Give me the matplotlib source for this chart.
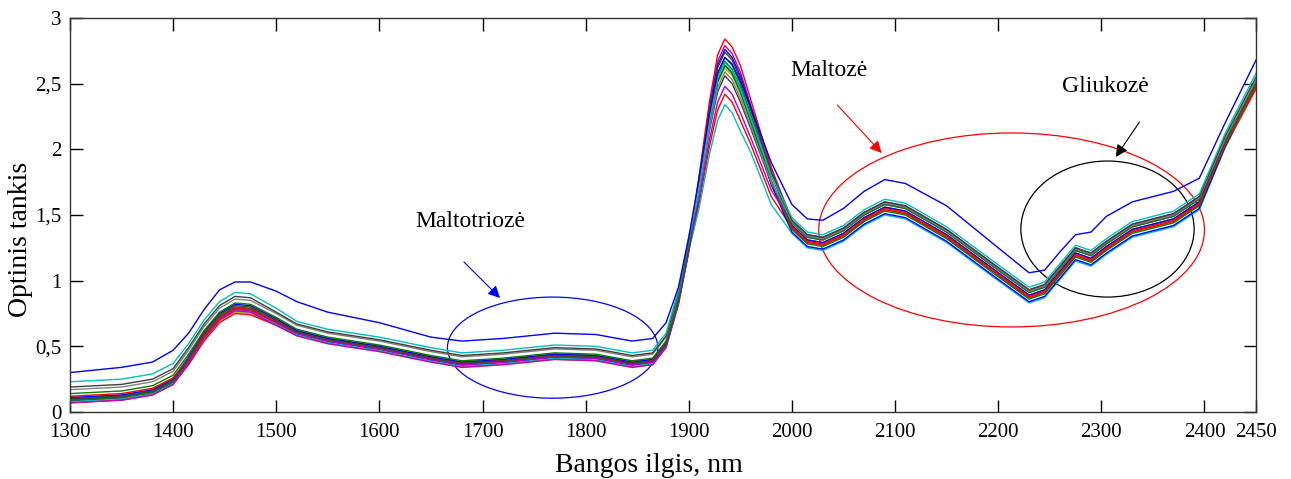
import matplotlib.pyplot as plt
from matplotlib.patches import Ellipse

plt.rcParams['font.family'] = ['Liberation Serif', 'DejaVu Serif']

# wavelength grid [nm]
wavelength = [1300, 1350, 1380, 1400, 1415, 1430, 1445, 1460, 1475, 1500,
              1520, 1550, 1600, 1650, 1680, 1720, 1770, 1810, 1845, 1865,
              1878, 1890, 1900, 1910, 1920, 1928, 1935, 1942, 1950, 1960,
              1980, 2000, 2015, 2030, 2050, 2070, 2090, 2110, 2150, 2200,
              2230, 2245, 2260, 2275, 2290, 2305, 2330, 2370, 2395, 2420, 2450]

# spectra (optical density)
spec_top = [.30, .34, .38, .47, .60, .78, .93, .99, .99, .92,
            .84, .76, .68, .57, .54, .56, .60, .59, .54, .56,
            .68, .95, 1.33, 1.78, 2.27, 2.58, 2.70, 2.65, 2.52, 2.32,
            1.90, 1.58, 1.47, 1.46, 1.55, 1.68, 1.77, 1.74, 1.57, 1.25,
            1.06, 1.08, 1.22, 1.35, 1.37, 1.49, 1.60, 1.68, 1.78, 2.20, 2.68]
spec_01 = [.23, .25, .29, .37, .52, .70, .84, .91, .90, .79,
           .69, .63, .57, .49, .45, .47, .51, .50, .45, .47,
           .60, .93, 1.33, 1.71, 2.22, 2.54, 2.66, 2.60, 2.46, 2.24,
           1.80, 1.48, 1.37, 1.35, 1.42, 1.54, 1.62, 1.59, 1.41, 1.12,
           .95, .99, 1.13, 1.27, 1.23, 1.32, 1.45, 1.53, 1.66, 2.12, 2.58]
spec_02 = [.19, .21, .25, .33, .49, .67, .81, .88, .87, .76,
           .67, .61, .55, .47, .43, .45, .49, .48, .43, .45,
           .58, .91, 1.31, 1.75, 2.28, 2.62, 2.74, 2.68, 2.54, 2.30,
           1.83, 1.46, 1.35, 1.33, 1.40, 1.52, 1.60, 1.57, 1.39, 1.10,
           .93, .97, 1.11, 1.25, 1.21, 1.30, 1.43, 1.51, 1.64, 2.10, 2.55]
spec_03 = [.17, .19, .23, .31, .47, .65, .79, .86, .85, .75,
           .66, .60, .54, .46, .42, .44, .48, .47, .42, .44,
           .57, .90, 1.30, 1.68, 2.16, 2.47, 2.59, 2.53, 2.39, 2.18,
           1.75, 1.45, 1.34, 1.32, 1.39, 1.51, 1.59, 1.56, 1.38, 1.09,
           .92, .96, 1.10, 1.24, 1.20, 1.29, 1.42, 1.50, 1.63, 2.08, 2.53]
spec_04 = [.14, .16, .20, .28, .44, .62, .76, .83, .82, .72,
           .63, .57, .51, .43, .39, .41, .45, .44, .39, .41,
           .54, .87, 1.27, 1.73, 2.25, 2.58, 2.70, 2.64, 2.50, 2.27,
           1.80, 1.44, 1.33, 1.31, 1.38, 1.50, 1.58, 1.55, 1.37, 1.08,
           .91, .95, 1.09, 1.23, 1.19, 1.28, 1.41, 1.49, 1.62, 2.06, 2.50]
spec_05 = [.12, .14, .18, .26, .41, .58, .72, .79, .78, .69,
           .61, .55, .49, .41, .37, .39, .43, .42, .37, .39,
           .52, .85, 1.25, 1.80, 2.36, 2.72, 2.84, 2.78, 2.64, 2.38,
           1.86, 1.41, 1.30, 1.28, 1.35, 1.47, 1.55, 1.52, 1.34, 1.05,
           .88, .92, 1.06, 1.20, 1.16, 1.25, 1.38, 1.46, 1.59, 2.03, 2.47]
spec_06 = [.11, .13, .17, .25, .42, .61, .75, .82, .81, .71,
           .62, .56, .50, .42, .38, .40, .44, .43, .38, .40,
           .53, .86, 1.26, 1.76, 2.30, 2.64, 2.76, 2.70, 2.56, 2.32,
           1.82, 1.42, 1.31, 1.29, 1.36, 1.48, 1.56, 1.53, 1.35, 1.06,
           .89, .93, 1.07, 1.21, 1.17, 1.26, 1.39, 1.47, 1.60, 2.06, 2.52]
spec_07 = [.10, .12, .16, .24, .39, .57, .71, .78, .77, .68,
           .60, .54, .48, .40, .36, .38, .42, .41, .36, .38,
           .51, .84, 1.24, 1.62, 2.07, 2.36, 2.48, 2.42, 2.28, 2.09,
           1.69, 1.44, 1.33, 1.31, 1.38, 1.50, 1.58, 1.55, 1.37, 1.08,
           .91, .95, 1.09, 1.23, 1.19, 1.28, 1.41, 1.49, 1.62, 2.05, 2.49]
spec_08 = [.08, .10, .14, .22, .37, .55, .69, .76, .75, .66,
           .58, .52, .46, .38, .34, .36, .40, .39, .34, .36,
           .49, .82, 1.22, 1.69, 2.18, 2.50, 2.62, 2.56, 2.42, 2.20,
           1.74, 1.40, 1.29, 1.27, 1.34, 1.46, 1.54, 1.51, 1.33, 1.04,
           .87, .91, 1.05, 1.19, 1.15, 1.24, 1.37, 1.45, 1.58, 2.03, 2.48]
spec_09 = [.09, .11, .15, .23, .40, .59, .73, .80, .79, .70,
           .62, .56, .50, .42, .38, .40, .44, .43, .38, .40,
           .53, .86, 1.26, 1.72, 2.22, 2.55, 2.67, 2.61, 2.47, 2.24,
           1.76, 1.39, 1.28, 1.26, 1.33, 1.45, 1.53, 1.50, 1.32, 1.03,
           .86, .90, 1.04, 1.18, 1.14, 1.23, 1.36, 1.44, 1.57, 2.04, 2.51]
spec_10 = [.07, .09, .13, .21, .36, .54, .68, .75, .74, .66,
           .59, .53, .47, .39, .35, .37, .41, .40, .35, .37,
           .50, .83, 1.23, 1.59, 2.02, 2.30, 2.42, 2.36, 2.22, 2.04,
           1.64, 1.40, 1.29, 1.27, 1.34, 1.46, 1.54, 1.51, 1.33, 1.04,
           .87, .91, 1.05, 1.19, 1.15, 1.24, 1.37, 1.45, 1.58, 2.02, 2.46]
spec_11 = [.08, .10, .14, .22, .38, .56, .70, .77, .76, .67,
           .59, .53, .47, .39, .35, .37, .41, .40, .35, .37,
           .50, .83, 1.23, 1.55, 1.96, 2.22, 2.34, 2.28, 2.14, 1.98,
           1.58, 1.36, 1.25, 1.23, 1.30, 1.42, 1.50, 1.47, 1.29, 1.00,
           .83, .87, 1.01, 1.15, 1.11, 1.20, 1.33, 1.41, 1.54, 2.01, 2.48]
spec_12 = [.09, .11, .15, .23, .39, .58, .72, .79, .78, .68,
           .60, .54, .48, .40, .36, .38, .42, .41, .36, .38,
           .51, .84, 1.24, 1.70, 2.20, 2.52, 2.64, 2.58, 2.44, 2.22,
           1.73, 1.37, 1.26, 1.24, 1.31, 1.43, 1.51, 1.48, 1.30, 1.01,
           .84, .88, 1.02, 1.16, 1.12, 1.21, 1.34, 1.42, 1.55, 2.02, 2.49]
spec_13 = [.10, .12, .16, .24, .41, .60, .74, .81, .80, .70,
           .61, .55, .49, .41, .37, .39, .43, .42, .37, .39,
           .52, .85, 1.25, 1.66, 2.14, 2.44, 2.56, 2.50, 2.36, 2.16,
           1.74, 1.45, 1.34, 1.32, 1.39, 1.51, 1.59, 1.56, 1.38, 1.09,
           .92, .96, 1.10, 1.24, 1.20, 1.29, 1.42, 1.50, 1.63, 2.08, 2.52]
spec_14 = [.07, .09, .13, .21, .37, .56, .70, .77, .76, .66,
           .58, .52, .46, .38, .34, .36, .40, .39, .34, .36,
           .49, .82, 1.22, 1.78, 2.32, 2.67, 2.79, 2.73, 2.59, 2.34,
           1.86, 1.46, 1.35, 1.33, 1.40, 1.52, 1.60, 1.57, 1.39, 1.10,
           .93, .97, 1.11, 1.25, 1.21, 1.30, 1.43, 1.51, 1.64, 2.06, 2.48]
spec_15 = [.10, .12, .16, .24, .40, .58, .72, .79, .78, .69,
           .61, .55, .49, .41, .37, .39, .43, .42, .37, .39,
           .52, .85, 1.25, 1.70, 2.20, 2.52, 2.64, 2.58, 2.44, 2.22,
           1.76, 1.42, 1.31, 1.29, 1.36, 1.48, 1.56, 1.53, 1.35, 1.06,
           .89, .93, 1.07, 1.21, 1.17, 1.26, 1.39, 1.47, 1.60, 2.05, 2.50]

# old matlab line colours
B = (0, 0, 1)
G = (0, 0.5, 0)
R = (1, 0, 0)
C = (0, 0.75, 0.75)
M = (0.75, 0, 0.75)
Y = (0.75, 0.75, 0)
K = (0.25, 0.25, 0.25)

bundle = [(spec_08, Y), (spec_10, R), (spec_11, C), (spec_12, B), (spec_09, G),
          (spec_14, M), (spec_07, M), (spec_15, G), (spec_06, B), (spec_05, R),
          (spec_13, K), (spec_04, G), (spec_03, (0.5, 0.5, 0.5)), (spec_02, K),
          (spec_01, C), (spec_top, B)]

ytick_vals = [0, 0.5, 1, 1.5, 2, 2.5, 3]
ytick_text = ['0', '0,5', '1', '1,5', '2', '2,5', '3']
xtick_vals = [1300, 1400, 1500, 1600, 1700, 1800, 1900, 2000, 2100, 2200, 2300, 2400, 2450]

fig = plt.figure(figsize=(12.91, 4.79), dpi=100)
ax = fig.add_axes([0.0542, 0.1399, 0.9187, 0.8225])

for spec, col in bundle:
    ax.plot(wavelength, spec, color=col, lw=1.0)

# marked regions
ax.add_patch(Ellipse((1768, 0.49), 204, 0.77, fill=False, color=B, lw=0.9))
ax.add_patch(Ellipse((2213, 1.386), 374, 1.477, fill=False, color=R, lw=0.9))
ax.add_patch(Ellipse((2306, 1.393), 168, 1.036, fill=False, color='black', lw=0.9))

arrow = dict(arrowstyle='-|>', lw=0.8, mutation_scale=18, shrinkA=0, shrinkB=0)
ax.annotate('', xy=(1717, 0.868), xytext=(1682, 1.142), arrowprops=dict(arrow, color=B))
ax.annotate('', xy=(2087, 1.972), xytext=(2044, 2.338), arrowprops=dict(arrow, color=R))
ax.annotate('', xy=(2314, 1.942), xytext=(2337, 2.208), arrowprops=dict(arrow, color='black'))

ax.text(1688, 1.447, 'Maltotriozė', fontsize=17, ha='center', va='center')
ax.text(2036, 2.604, 'Maltozė', fontsize=17, ha='center', va='center')
ax.text(2304, 2.482, 'Gliukozė', fontsize=17, ha='center', va='center')

ax.set_xlim(1300, 2450)
ax.set_ylim(0, 3)
ax.set_xticks(xtick_vals)
ax.set_yticks(ytick_vals)
ax.set_yticklabels(ytick_text)
ax.tick_params(direction='in', top=True, right=True, length=9, width=1,
               labelsize=15, pad=6)
ax.tick_params(axis='x', pad=8)
for s in ax.spines.values():
    s.set_linewidth(1)
    s.set_color('#333333')

ax.set_ylabel('Optinis tankis', fontsize=20)
ax.yaxis.set_label_coords(-0.031, 0.437)
ax.set_xlabel('Bangos ilgis, nm', fontsize=20)
ax.xaxis.set_label_coords(0.488, -0.104)

fig.savefig('out.png', dpi=100)
